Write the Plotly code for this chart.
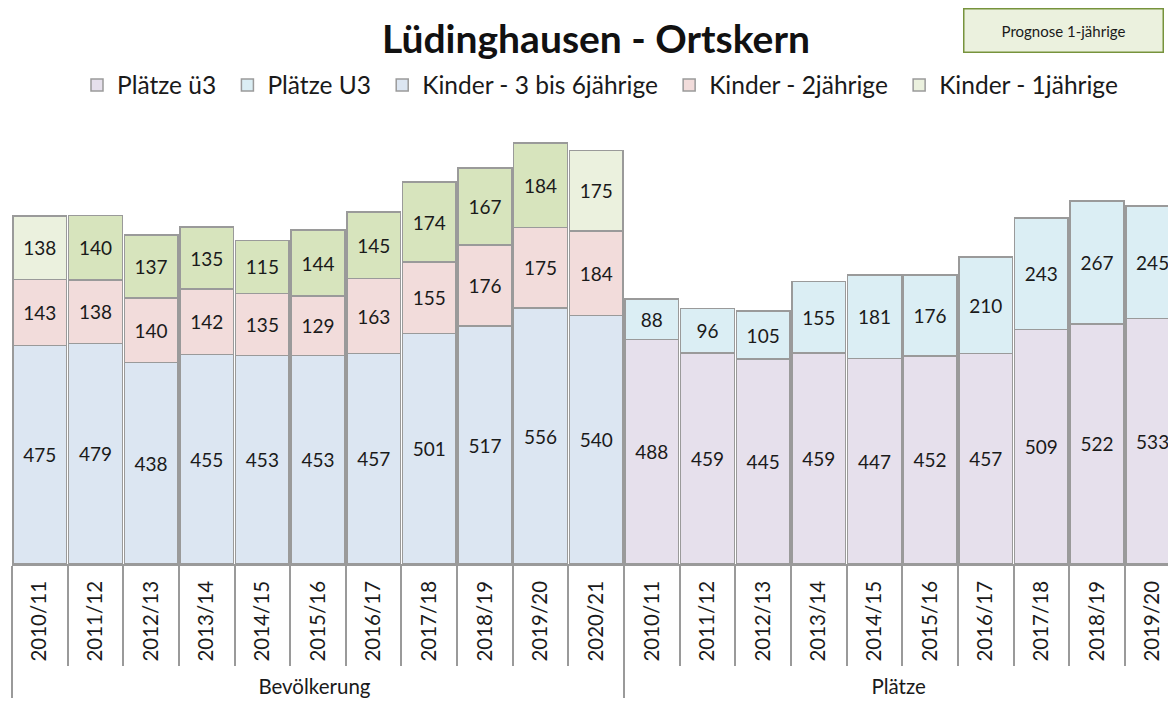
import plotly.graph_objects as go

# ---- data ----
years_bev = ["2010/11", "2011/12", "2012/13", "2013/14", "2014/15", "2015/16",
             "2016/17", "2017/18", "2018/19", "2019/20", "2020/21"]
years_pl = ["2010/11", "2011/12", "2012/13", "2013/14", "2014/15", "2015/16",
            "2016/17", "2017/18", "2018/19", "2019/20"]
group_bev = "Bevölkerung"
group_pl = "Plätze"

kinder_3_6 = [475, 479, 438, 455, 453, 453, 457, 501, 517, 556, 540]
kinder_2 = [143, 138, 140, 142, 135, 129, 163, 155, 176, 175, 184]
kinder_1 = [138, 140, 137, 135, 115, 144, 145, 174, 167, 184, 175]
kinder_1_prognose = [False, True, True, True, True, True, True, True, True, True, False]

plaetze_ue3 = [488, 459, 445, 459, 447, 452, 457, 509, 522, 533]
plaetze_u3 = [88, 96, 105, 155, 181, 176, 210, 243, 267, 245]

title_text = "Lüdinghausen - Ortskern"
note_text = "Prognose 1-jährige"

# ---- styling ----
FONT = "Lato"
EDGE = "#9a9a9a"
C_UE3 = "#E6E0EC"
C_U3 = "#DBEEF4"
C_K36 = "#DCE6F2"
C_K2 = "#F2DCDB"
C_K1 = "#EBF1DE"
C_K1P = "#D7E4BD"
PAD = "\u00a0"  # small extra gap after legend entries

x_bev = [[group_bev] * len(years_bev), years_bev]
x_pl = [[group_pl] * len(years_pl), years_pl]

common = dict(
    texttemplate="%{y}",
    textposition="inside",
    insidetextanchor="middle",
    textangle=0,
    constraintext="none",
    textfont=dict(family=FONT, size=19, color="#1a1a1a"),
    hoverinfo="skip",
)

def edge():
    return dict(color=EDGE, width=1.5)

fig = go.Figure()
fig.add_trace(go.Bar(name="Kinder - 3 bis 6jährige" + PAD, x=x_bev, y=kinder_3_6, legendrank=3,
                     marker=dict(color=C_K36, line=edge()), **common))
fig.add_trace(go.Bar(name="Kinder - 2jährige" + PAD, x=x_bev, y=kinder_2, legendrank=4,
                     marker=dict(color=C_K2, line=edge()), **common))
k1_colors = [C_K1P if p else C_K1 for p in kinder_1_prognose]
fig.add_trace(go.Bar(name="Kinder - 1jährige", x=x_bev, y=kinder_1, showlegend=False,
                     marker=dict(color=k1_colors, line=edge()), **common))
fig.add_trace(go.Bar(name="Plätze ü3" + PAD, x=x_pl, y=plaetze_ue3, legendrank=1,
                     marker=dict(color=C_UE3, line=edge()), **common))
fig.add_trace(go.Bar(name="Plätze U3" + PAD, x=x_pl, y=plaetze_u3, legendrank=2,
                     marker=dict(color=C_U3, line=edge()), **common))
# legend entry for Kinder - 1jährige (light swatch)
fig.add_trace(go.Bar(name="Kinder - 1jährige", x=[[group_bev], [years_bev[0]]], y=[None],
                     legendrank=5, marker=dict(color=C_K1, line=edge()), hoverinfo="skip"))

n_total = len(years_bev) + len(years_pl)

# page has an 8px body margin; figure sized to fit the 1176x709 window
W, H = 1168, 701
ML, MT, MB = 4, 122, 145
plot_w = W - ML
plot_h = H - MT - MB

fig.update_layout(
    width=W, height=H,
    margin=dict(l=ML, r=0, t=MT, b=MB),
    paper_bgcolor="white", plot_bgcolor="white",
    barmode="stack", bargap=0.035,
    font=dict(family=FONT, color="#1a1a1a"),
    title=dict(text=title_text, x=588 / W, xanchor="center", y=1 - 31 / H, yanchor="middle",
               font=dict(family=FONT, size=39, weight="bold", color="#111111")),
    legend=dict(orientation="h", x=(592 - ML) / plot_w, xanchor="center",
                y=(H - MB - 77) / plot_h, yanchor="middle",
                font=dict(family=FONT, size=24.5, color="#1a1a1a"),
                traceorder="normal", itemclick=False, itemdoubleclick=False),
    showlegend=True,
    xaxis=dict(type="multicategory", range=[-0.5, n_total - 0.58],
               showline=True, linecolor=EDGE, linewidth=1.5,
               ticks="outside", ticklen=100, tickcolor=EDGE, tickwidth=1.5,
               tickson="boundaries", tickangle=-90, ticklabelstandoff=7,
               tickfont=dict(family=FONT, size=20.5, color="#1a1a1a"),
               showdividers=True, dividercolor=EDGE, dividerwidth=1.5,
               showgrid=False, zeroline=False, fixedrange=True),
    yaxis=dict(range=[0, 943], visible=False, fixedrange=True),
)

fig.add_annotation(text=note_text, xref="paper", yref="paper",
                   x=(1055 - ML) / plot_w, y=(H - MB - 22) / plot_h,
                   xanchor="center", yanchor="middle", showarrow=False,
                   width=196, height=40, borderpad=1,
                   bgcolor="#EBF1DE", bordercolor="#77933C",
                   borderwidth=1.5, font=dict(family=FONT, size=15, color="#1a1a1a"))

fig.write_html("out.html")
